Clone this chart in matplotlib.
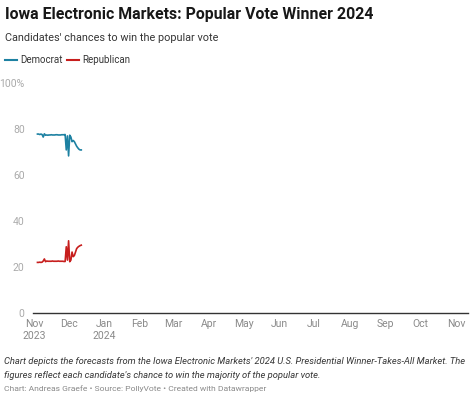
import numpy as np
import pandas as pd
import matplotlib
matplotlib.use('Agg')
import matplotlib.pyplot as plt
import matplotlib.dates as mdates
from matplotlib import font_manager

plt.rcParams['font.family'] = ['Roboto', 'DejaVu Sans']

# Daily readings, Nov 4 - Dec 12 2023
dates = pd.date_range('2023-11-04', '2023-12-12', freq='D')
democrat = [77.8, 77.8, 77.6, 77.8, 77.6, 76.5, 77.9, 77.3, 77.4, 77.3,
            77.4, 77.4, 77.5, 77.4, 77.4, 77.4, 77.5, 77.5, 77.4, 77.4,
            77.4, 77.5, 77.5, 77.5, 77.6, 70.9, 77.0,
            68.3, 77.3, 76.5, 74.5, 75.0, 74.5, 73.5, 72.5, 71.8, 71.2, 70.9, 70.9]
republican = [22.0, 22.0, 22.1, 22.0, 22.1, 22.6, 23.5, 22.3, 22.6, 22.5,
              22.5, 22.5, 22.5, 22.6, 22.5, 22.5, 22.5, 22.5, 22.6, 22.5,
              22.5, 22.5, 22.5, 22.4, 22.4, 28.8, 23.0,
              31.4, 22.3, 23.0, 26.5, 24.5, 25.0, 26.5, 28.0, 28.6, 29.0, 29.3, 29.5]

month_ticks = pd.date_range('2023-11-01', '2024-11-01', freq='MS')
month_labels = ['Nov\n2023', 'Dec', 'Jan\n2024', 'Feb', 'Mar', 'Apr', 'May',
                'Jun', 'Jul', 'Aug', 'Sep', 'Oct', 'Nov']
y_ticks = [0, 20, 40, 60, 80, 100]
y_labels = ['0', '20', '40', '60', '80', '100%']

DEM_COLOR = '#1d81a2'
REP_COLOR = '#c71e1d'


def findFont(filename, fallback):
    # Pick the static Roboto file by name, else let matplotlib choose
    for f in font_manager.fontManager.ttflist:
        if f.fname.endswith('/' + filename):
            return font_manager.FontProperties(fname=f.fname)
    return font_manager.FontProperties(family=['Roboto', 'DejaVu Sans'], **fallback)


f_reg = findFont('Roboto-Regular.ttf', {})
f_bold = findFont('Roboto-Bold.ttf', {'weight': 'bold'})
f_ital = findFont('Roboto-Italic.ttf', {'style': 'italic'})

fig = plt.figure(figsize=(4.74, 3.96), dpi=100)
fig.patch.set_facecolor('white')

# axes placed in pixel terms
W, H = 474.0, 396.0
ax = fig.add_axes([33 / W, (H - 313) / H, (468 - 33) / W, (313 - 83) / H])

ax.plot(dates, democrat, color=DEM_COLOR, lw=1.2, solid_joinstyle='round')
ax.plot(dates, republican, color=REP_COLOR, lw=1.2, solid_joinstyle='round')

# x range: Nov 1 2023 sits just right of the axis start
x0 = mdates.date2num(pd.Timestamp('2023-11-01'))
x1 = mdates.date2num(pd.Timestamp('2024-11-01'))
px_per_day = (456 - 34) / (x1 - x0)
ax.set_xlim(x0 - 1 / px_per_day, x1 + 12 / px_per_day)
ax.set_ylim(0, 100)

for s in ['top', 'right', 'left']:
    ax.spines[s].set_visible(False)
ax.spines['bottom'].set_color('#333333')
ax.spines['bottom'].set_linewidth(1.0)

ax.set_xticks(month_ticks)
ax.set_xticklabels(month_labels, color='#888888', linespacing=1.35,
                   fontproperties=f_reg, fontsize=7.5)
ax.set_yticks(y_ticks)
ax.set_yticklabels(y_labels, color='#aaaaaa', fontproperties=f_reg, fontsize=7.5)
ax.tick_params(axis='both', length=0)
ax.tick_params(axis='x', pad=4)
ax.tick_params(axis='y', pad=6)

# title block
fig.text(5 / W, 1 - 14 / H, 'Iowa Electronic Markets: Popular Vote Winner 2024',
         fontproperties=f_bold, fontsize=11.4, color='#181818', va='center', ha='left')
fig.text(5 / W, 1 - 38 / H, "Candidates' chances to win the popular vote",
         fontproperties=f_reg, fontsize=7.8, color='#333333', va='center', ha='left')

# legend
leg_y = 1 - 60 / H
fig.add_artist(plt.Line2D([5 / W, 17 / W], [leg_y, leg_y], color=DEM_COLOR, lw=1.5))
fig.text(20 / W, leg_y, 'Democrat', fontproperties=f_reg, fontsize=7.0,
         color='#333333', va='center')
fig.add_artist(plt.Line2D([67 / W, 79 / W], [leg_y, leg_y], color=REP_COLOR, lw=1.5))
fig.text(82 / W, leg_y, 'Republican', fontproperties=f_reg, fontsize=7.0,
         color='#333333', va='center')

# notes
fig.text(4 / W, 1 - 362 / H,
         "Chart depicts the forecasts from the Iowa Electronic Markets' 2024 U.S. Presidential Winner-Takes-All Market. The",
         fontproperties=f_ital, fontsize=6.75, color='#333333', va='center')
fig.text(4 / W, 1 - 375 / H,
         "figures reflect each candidate's chance to win the majority of the popular vote.",
         fontproperties=f_ital, fontsize=6.75, color='#333333', va='center')
fig.text(4 / W, 1 - 389 / H,
         'Chart: Andreas Graefe \u2022 Source: PollyVote \u2022 Created with Datawrapper',
         fontproperties=f_reg, fontsize=6.1, color='#888888', va='center')

fig.savefig('out.png', dpi=100, facecolor='white')
